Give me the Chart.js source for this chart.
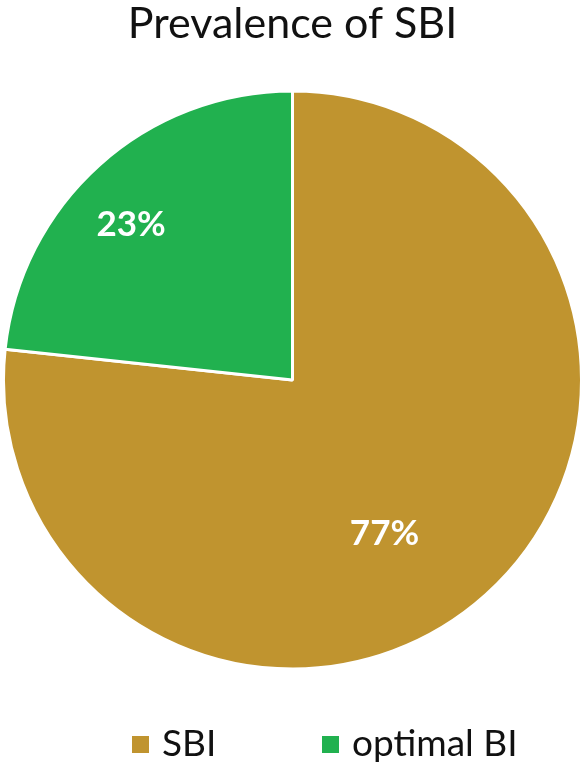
<!DOCTYPE html>
<html>
<head>
<meta charset="utf-8">
<script src="https://cdn.jsdelivr.net/npm/chart.js@4"></script>
<style>
  html, body { margin: 0; padding: 0; background: #ffffff; }
  #wrap { position: relative; width: 585px; height: 766px; }
  #legend { position: absolute; left: 0; top: 720px; width: 585px; height: 44px; font-family: Lato, sans-serif; font-size: 37px; color: #111; }
  .item { position: absolute; top: 0; line-height: 44px; white-space: nowrap; }
  .box { position: absolute; width: 17px; height: 17px; top: 16px; }
  .txt { position: absolute; top: 0; }
</style>
</head>
<body>
<div id="wrap">
  <canvas id="c" width="585" height="766"></canvas>
  <div id="legend"></div>
</div>
<script>
const categories = ["SBI", "optimal BI"];
const values = [76.7, 23.3];
const valueLabels = ["77%", "23%"];
const colors = ["#C0942F", "#21B14F"];
const titleText = "Prevalence of SBI";

// label placement: fraction along the arc and fraction of radius
const labelPlacement = [ {along: 0.54, r: 0.62}, {along: 0.45, r: 0.775} ];

const sliceLabels = {
  id: 'sliceLabels',
  afterDatasetsDraw(chart) {
    const ctx = chart.ctx;
    const meta = chart.getDatasetMeta(0);
    ctx.save();
    ctx.fillStyle = '#ffffff';
    ctx.font = 'bold 35px Lato, sans-serif';
    ctx.textAlign = 'center';
    ctx.textBaseline = 'middle';
    meta.data.forEach((arc, i) => {
      const p = arc.getProps(['x','y','startAngle','endAngle','outerRadius'], true);
      const pl = labelPlacement[i];
      const a = p.startAngle + (p.endAngle - p.startAngle) * pl.along;
      const r = p.outerRadius * pl.r;
      ctx.fillText(valueLabels[i], p.x + Math.cos(a) * r, p.y + Math.sin(a) * r);
    });
    ctx.restore();
  }
};

new Chart(document.getElementById('c'), {
  type: 'pie',
  data: {
    labels: categories,
    datasets: [{
      data: values,
      backgroundColor: colors,
      borderColor: '#ffffff',
      borderWidth: 3
    }]
  },
  options: {
    responsive: false,
    animation: false,
    layout: { padding: { top: 0, bottom: 95.5, left: 0, right: 0 } },
    plugins: {
      title: {
        display: true,
        text: titleText,
        color: '#111111',
        font: { family: 'Lato, sans-serif', size: 43, weight: 'normal', lineHeight: 1.1 },
        padding: { top: 0, bottom: 42.2 }
      },
      legend: { display: false },
      tooltip: { enabled: false }
    }
  },
  plugins: [sliceLabels]
});

// HTML legend
const legendEl = document.getElementById('legend');
const itemX = [132, 322];
categories.forEach((name, i) => {
  const it = document.createElement('div');
  it.className = 'item';
  it.style.left = itemX[i] + 'px';
  const b = document.createElement('span');
  b.className = 'box';
  b.style.background = colors[i];
  b.style.left = '0px';
  const t = document.createElement('span');
  t.className = 'txt';
  t.style.left = '30px';
  t.textContent = name;
  it.appendChild(b); it.appendChild(t);
  legendEl.appendChild(it);
});
</script>
</body>
</html>
